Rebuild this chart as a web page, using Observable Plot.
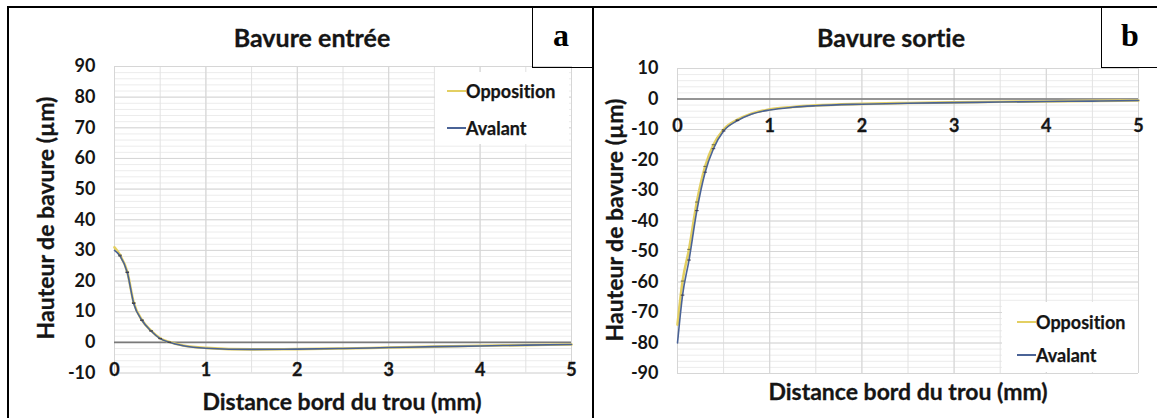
<!DOCTYPE html>
<html>
<head>
<meta charset="utf-8">
<script src="https://cdn.jsdelivr.net/npm/d3@7"></script>
<script src="https://cdn.jsdelivr.net/npm/@observablehq/plot@0.6"></script>
<style>
  html, body { margin: 0; padding: 0; background: #fff; }
  body { width: 1157px; height: 418px; position: relative; overflow: hidden; font-family: Lato, "Open Sans", sans-serif; color: #151515; font-variant-ligatures: none; }
  svg text { font-variant-ligatures: none; }
  .abs { position: absolute; }
  .title { position: absolute; font-weight: bold; font-size: 25px; transform: translate(-50%, -50%); white-space: nowrap; -webkit-text-stroke: 0.3px #151515; }
  .axt { position: absolute; font-weight: bold; font-size: 23px; transform: translate(-50%, -50%); white-space: nowrap; -webkit-text-stroke: 0.3px #151515; }
  .ayt { position: absolute; font-weight: bold; font-size: 23px; transform: translate(-50%, -50%) rotate(-90deg); white-space: nowrap; -webkit-text-stroke: 0.3px #151515; }
  .boxlab { position: absolute; font-family: "Liberation Serif", serif; font-weight: bold; font-size: 32px; transform: translate(-50%, -50%); color: #000; }
  .leg { position: absolute; font-weight: bold; font-size: 18px; transform: translateY(-50%); white-space: nowrap; -webkit-text-stroke: 0.25px #151515; }
  .dash { position: absolute; height: 2px; }
</style>
</head>
<body>
<div id="panelA" class="abs" style="left:0;top:0"></div>
<div id="panelB" class="abs" style="left:593px;top:0"></div>
<script>
// ---- data ----
const distA = [0, 0.06, 0.14, 0.21, 0.3, 0.4, 0.5, 0.6, 0.75, 1, 1.5, 2, 2.5, 3, 3.5, 4, 4.5, 5];
const oppositionA = [31, 28.5, 23, 13, 7.3, 3.8, 1.3, 0.1, -1.0, -1.8, -2.3, -2.2, -2.0, -1.7, -1.4, -1.1, -0.9, -0.7];
const avalantA = [30, 28.2, 22.8, 12.7, 7.2, 3.7, 1.2, 0.0, -1.1, -1.9, -2.3, -2.2, -2.0, -1.7, -1.4, -1.2, -0.9, -0.7];

const distB = [0, 0.055, 0.125, 0.21, 0.3, 0.39, 0.5, 0.65, 0.8, 1, 1.25, 1.5, 2, 2.5, 3, 3.5, 4, 4.5, 5];
const oppositionB = [-74, -59.7, -49.3, -33.8, -22.1, -15, -10, -6.8, -4.8, -3.4, -2.6, -2.1, -1.6, -1.3, -1.1, -0.9, -0.8, -0.6, -0.5];
const avalantB = [-80, -64.3, -52.8, -36.6, -24, -16.3, -10.5, -7.1, -5.0, -3.6, -2.7, -2.2, -1.7, -1.4, -1.2, -1.0, -0.8, -0.7, -0.5];

const xTicks = [0, 1, 2, 3, 4, 5];
const yTicksA = [-10, 0, 10, 20, 30, 40, 50, 60, 70, 80, 90];
const yTicksB = [-90, -80, -70, -60, -50, -40, -30, -20, -10, 0, 10];
const seriesNames = ["Opposition", "Avalant"];
const titles = ["Bavure entrée", "Bavure sortie"];
const xTitle = "Distance bord du trou (mm)";
const yTitle = "Hauteur de bavure (µm)";

const YELLOW = "#e3cf62";
const BLUE = "#4a6396";
const INK = "#151515";
const dashSym = { draw(ctx, size) { const w = Math.sqrt(size) / 2; ctx.moveTo(-w, 0); ctx.lineTo(w, 0); } };

function build(dist, opp, ava, yTicks, yDom, m, w) {
  const rows = dist.map((d, i) => ({ d, opp: opp[i], ava: ava[i] }));
  const mk = rows.filter(r => r.d > 0 && r.d <= 0.65);
  const minorY = d3.range(yDom[0], yDom[1] + 0.01, 2);
  const minorX = d3.range(0, 5.01, 0.5);
  return Plot.plot({
    width: w, height: 418,
    marginLeft: m.l, marginRight: m.r, marginTop: m.t, marginBottom: m.b,
    x: { domain: [0, 5], axis: null },
    y: { domain: yDom, axis: null },
    style: { fontFamily: "Lato, sans-serif", fontSize: "18px", fontWeight: "bold", color: INK, background: "transparent", overflow: "visible" },
    marks: [
      Plot.ruleY(minorY, { stroke: "#ececec", strokeWidth: 1 }),
      Plot.ruleX(minorX, { stroke: "#e2e2e2", strokeWidth: 1 }),
      Plot.ruleY(yTicks, { stroke: "#d6d6d6", strokeWidth: 1 }),
      Plot.ruleX(xTicks, { stroke: "#d6d6d6", strokeWidth: 1 }),
      Plot.ruleY([0], { stroke: "#7a7a7a", strokeWidth: 1.6 }),
      Plot.line(rows, { x: "d", y: "opp", stroke: YELLOW, strokeWidth: 2.6, curve: "monotone-x" }),
      Plot.line(rows, { x: "d", y: "ava", stroke: BLUE, strokeWidth: 1.6, curve: "monotone-x" }),
      Plot.dot(mk, { x: "d", y: "opp", symbol: dashSym, r: 2, stroke: "#6b6b4a", strokeWidth: 1 }),
      Plot.dot(mk, { x: "d", y: "ava", symbol: dashSym, r: 2, stroke: "#3a3a55", strokeWidth: 1 }),
      Plot.axisY(yTicks, { tickSize: 0, tickPadding: 19, tickFormat: d => String(d), fill: INK, stroke: INK, strokeWidth: 0.3 }),
      Plot.text(xTicks, { x: d => d, y: -10, dy: -3, text: d => String(d), fontSize: 18, fontWeight: "bold", fill: INK, stroke: INK, strokeWidth: 0.3 })
    ]
  });
}

document.getElementById("panelA").append(
  build(distA, oppositionA, avalantA, yTicksA, [-10, 90], { l: 114, r: 22, t: 66, b: 45.5 }, 593)
);
document.getElementById("panelB").append(
  build(distB, oppositionB, avalantB, yTicksB, [-90, 10], { l: 84, r: 19, t: 68, b: 45 }, 564)
);

// ---- overlays: frame, titles, labels, legends ----
function add(html) { document.body.insertAdjacentHTML("beforeend", html); }
add(`<div class="abs" style="left:7px;top:6px;width:1150px;height:2px;background:#000"></div>`);
add(`<div class="abs" style="left:7px;top:6px;width:2px;height:412px;background:#000"></div>`);
add(`<div class="abs" style="left:592px;top:6px;width:2px;height:412px;background:#000"></div>`);
add(`<div class="abs" style="left:532px;top:7px;width:60px;height:60px;border-left:1.5px solid #000;border-bottom:1.5px solid #000"></div>`);
add(`<div class="abs" style="left:1101px;top:7px;width:60px;height:60px;border-left:1.5px solid #000;border-bottom:1.5px solid #000"></div>`);
add(`<div class="boxlab" style="left:561px;top:35px">a</div>`);
add(`<div class="boxlab" style="left:1130px;top:35px">b</div>`);
add(`<div class="title" style="left:312px;top:37px">${titles[0]}</div>`);
add(`<div class="title" style="left:891px;top:37px">${titles[1]}</div>`);
add(`<div class="axt" style="left:342px;top:401px">${xTitle}</div>`);
add(`<div class="axt" style="left:908px;top:391px">${xTitle}</div>`);
add(`<div class="ayt" style="left:45px;top:218px">${yTitle}</div>`);
add(`<div class="ayt" style="left:614px;top:220px">${yTitle}</div>`);

function legend(bx, by, bw, bh, dx, y1, y2) {
  add(`<div class="abs" style="left:${bx}px;top:${by}px;width:${bw}px;height:${bh}px;background:#fff"></div>`);
  add(`<div class="dash" style="left:${dx}px;top:${y1 - 1}px;width:19px;background:${YELLOW}"></div>`);
  add(`<div class="leg" style="left:${dx + 19}px;top:${y1}px">${seriesNames[0]}</div>`);
  add(`<div class="dash" style="left:${dx}px;top:${y2 - 1}px;width:19px;background:${BLUE}"></div>`);
  add(`<div class="leg" style="left:${dx + 19}px;top:${y2}px">${seriesNames[1]}</div>`);
}
legend(435, 72, 134, 72, 447, 91, 128);
legend(1002, 302, 136, 70, 1017, 322, 355);
</script>
</body>
</html>
